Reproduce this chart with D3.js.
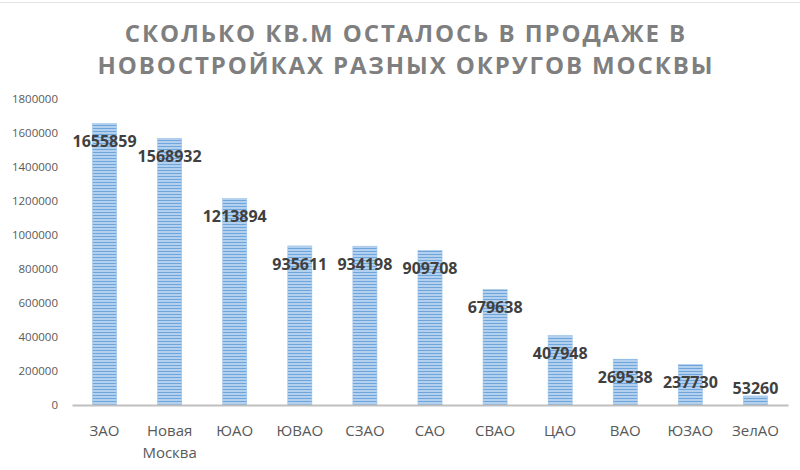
<!DOCTYPE html>
<html><head><meta charset="utf-8">
<script src="https://cdn.jsdelivr.net/npm/d3@7"></script>
<style>body{margin:0;background:#fff}svg{display:block}</style>
</head><body>
<svg id="c" width="800" height="470"></svg>
<script>
const categories = ["ЗАО", "Новая Москва", "ЮАО", "ЮВАО", "СЗАО", "САО", "СВАО", "ЦАО", "ВАО", "ЮЗАО", "ЗелАО"];
const values = [1655859, 1568932, 1213894, 935611, 934198, 909708, 679638, 407948, 269538, 237730, 53260];
const yTicks = [0, 200000, 400000, 600000, 800000, 1000000, 1200000, 1400000, 1600000, 1800000];
const titleLines = ["СКОЛЬКО КВ.М ОСТАЛОСЬ В ПРОДАЖЕ В", "НОВОСТРОЙКАХ РАЗНЫХ ОКРУГОВ МОСКВЫ"];

const svg = d3.select("#c");
const W = 800, H = 470;
const m = {left: 72, right: 12, top: 99, bottom: 65};
const x = d3.scaleBand().domain(categories).range([m.left, W - m.right]).paddingInner(0.63).paddingOuter(0.315);
const y = d3.scaleLinear().domain([0, 1800000]).range([H - m.bottom, m.top]);

// faint spreadsheet line on top
svg.append("line").attr("x1", 0).attr("x2", W).attr("y1", 2.5).attr("y2", 2.5).attr("stroke", "#e4e4e4");

// pattern
const defs = svg.append("defs");
const pat = defs.append("pattern").attr("id", "stripes").attr("patternUnits", "userSpaceOnUse")
  .attr("width", 10).attr("height", 3);
pat.append("rect").attr("width", 10).attr("height", 3).attr("fill", "#b3d1ef");
pat.append("rect").attr("y", 2).attr("width", 10).attr("height", 1).attr("fill", "#6ea6dc");

// title
const title = svg.append("g").attr("font-family", "'Open Sans', sans-serif").attr("font-weight", 700)
  .attr("font-size", 24).attr("fill", "#7f7f7f").attr("text-anchor", "middle").attr("letter-spacing", 1.9);
titleLines.forEach((t, i) => title.append("text").attr("x", 406).attr("y", 42 + i * 32).text(t));

// y axis labels
const yAxis = d3.axisLeft(y).tickValues(yTicks).tickSize(0).tickPadding(14).tickFormat(d3.format("d"));
const gy = svg.append("g").attr("transform", `translate(${m.left},0)`).call(yAxis);
gy.select(".domain").remove();
gy.selectAll("text").attr("font-family", "'Open Sans', sans-serif").attr("font-size", 11.5).attr("fill", "#595959");

// bars
svg.append("g").selectAll("rect").data(values).join("rect")
  .attr("x", (d, i) => x(categories[i])).attr("width", x.bandwidth())
  .attr("y", d => y(d)).attr("height", d => y(0) - y(d))
  .attr("fill", "url(#stripes)").attr("stroke", "#9cc2e8").attr("stroke-width", 0.6);

// x axis
const xAxis = d3.axisBottom(x).tickSize(0).tickPadding(0).tickFormat("");
const gx = svg.append("g").attr("transform", `translate(0,${y(0)})`).call(xAxis);
gx.select(".domain").attr("stroke", "#bfbfbf").attr("stroke-width", 2);
const lab = svg.append("g").attr("font-family", "'Open Sans', sans-serif").attr("font-size", 15)
  .attr("fill", "#595959").attr("text-anchor", "middle");
categories.forEach(c => {
  const words = c.split(" ");
  const t = lab.append("text").attr("x", x(c) + x.bandwidth() / 2).attr("y", y(0) + 31);
  words.forEach((w, j) => t.append("tspan").attr("x", x(c) + x.bandwidth() / 2).attr("dy", j ? 22 : 0).text(w));
});

// data labels
svg.append("g").attr("font-family", "'Open Sans', sans-serif").attr("font-weight", 700).attr("font-size", 16)
  .attr("fill", "#404040").attr("text-anchor", "middle")
  .selectAll("text").data(values).join("text")
  .attr("x", (d, i) => x(categories[i]) + x.bandwidth() / 2)
  .attr("y", d => Math.min(y(d) + 18, y(0) - 17))
  .attr("dy", "0.35em").text(d => d);
</script>
</body></html>
